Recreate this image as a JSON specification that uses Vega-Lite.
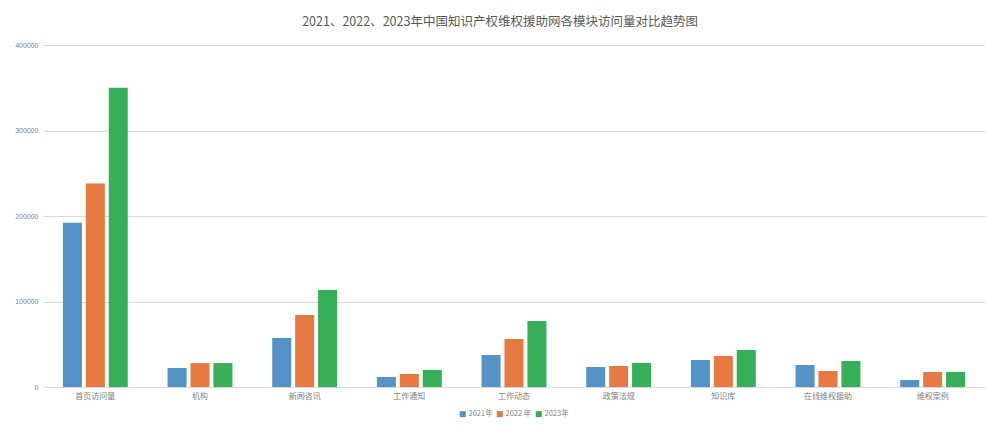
{
  "$schema": "https://vega.github.io/schema/vega-lite/v6.json",
  "width": 942,
  "height": 342,
  "autosize": {"type": "none"},
  "padding": {"left": 43, "top": 45, "right": 3, "bottom": 39},
  "background": "white",
  "title": {
    "text": "2021、2022、2023年中国知识产权维权援助网各模块访问量对比趋势图",
    "font": "Noto Sans CJK SC",
    "fontSize": 12.5,
    "fontWeight": "normal",
    "color": "#595959",
    "anchor": "middle",
    "offset": 13,
    "dx": -14
  },
  "data": {
    "values": [
      {"module": "首页访问量", "year": "2021年", "visits": 192000},
      {"module": "首页访问量", "year": "2022 年", "visits": 238000},
      {"module": "首页访问量", "year": "2023年", "visits": 350000},
      {"module": "机构", "year": "2021年", "visits": 22200},
      {"module": "机构", "year": "2022 年", "visits": 28000},
      {"module": "机构", "year": "2023年", "visits": 28000},
      {"module": "新闻咨讯", "year": "2021年", "visits": 57300},
      {"module": "新闻咨讯", "year": "2022 年", "visits": 84200},
      {"module": "新闻咨讯", "year": "2023年", "visits": 113500},
      {"module": "工作通知", "year": "2021年", "visits": 11700},
      {"module": "工作通知", "year": "2022 年", "visits": 15200},
      {"module": "工作通知", "year": "2023年", "visits": 19900},
      {"module": "工作动态", "year": "2021年", "visits": 37400},
      {"module": "工作动态", "year": "2022 年", "visits": 56100},
      {"module": "工作动态", "year": "2023年", "visits": 77200},
      {"module": "政策法规", "year": "2021年", "visits": 23400},
      {"module": "政策法规", "year": "2022 年", "visits": 24600},
      {"module": "政策法规", "year": "2023年", "visits": 28100},
      {"module": "知识库", "year": "2021年", "visits": 31600},
      {"module": "知识库", "year": "2022 年", "visits": 36300},
      {"module": "知识库", "year": "2023年", "visits": 43300},
      {"module": "在线维权援助", "year": "2021年", "visits": 25700},
      {"module": "在线维权援助", "year": "2022 年", "visits": 18700},
      {"module": "在线维权援助", "year": "2023年", "visits": 30400},
      {"module": "维权案例", "year": "2021年", "visits": 8200},
      {"module": "维权案例", "year": "2022 年", "visits": 17500},
      {"module": "维权案例", "year": "2023年", "visits": 17500}
    ]
  },
  "mark": {"type": "bar"},
  "encoding": {
    "x": {
      "field": "module",
      "type": "nominal",
      "sort": null,
      "title": null,
      "scale": {"paddingInner": 0.38, "paddingOuter": 0.19},
      "axis": {
        "labelAngle": 0,
        "labelFont": "Noto Sans CJK SC",
        "labelFontSize": 8,
        "labelColor": "#7f7f7f",
        "labelPadding": 5,
        "ticks": false,
        "domainColor": "#d9d9d9",
        "domainWidth": 1
      }
    },
    "xOffset": {
      "field": "year",
      "type": "nominal",
      "sort": ["2021年", "2022 年", "2023年"],
      "scale": {"paddingInner": 0.17, "paddingOuter": 0}
    },
    "y": {
      "field": "visits",
      "type": "quantitative",
      "title": null,
      "scale": {"domain": [0, 400000], "nice": false},
      "axis": {
        "values": [0, 100000, 200000, 300000, 400000],
        "format": "d",
        "labelFont": "Liberation Sans",
        "labelFontSize": 7,
        "labelColor": "#7f7f7f",
        "labelPadding": 5,
        "ticks": false,
        "domain": false,
        "gridColor": "#d9d9d9",
        "gridWidth": 1
      }
    },
    "color": {
      "field": "year",
      "type": "nominal",
      "sort": ["2021年", "2022 年", "2023年"],
      "scale": {"domain": ["2021年", "2022 年", "2023年"], "range": ["#5492C8", "#E67A42", "#37AE58"]},
      "legend": {
        "title": null,
        "orient": "bottom",
        "direction": "horizontal",
        "symbolType": "square",
        "symbolSize": 36,
        "symbolStrokeWidth": 0,
        "labelFont": "Noto Sans CJK SC",
        "labelFontSize": 7.5,
        "labelColor": "#7f7f7f",
        "columnPadding": 3,
        "labelOffset": 2,
        "offset": 10
      }
    }
  },
  "config": {
    "view": {"stroke": null},
    "legend": {"layout": {"bottom": {"anchor": "middle"}}}
  }
}
